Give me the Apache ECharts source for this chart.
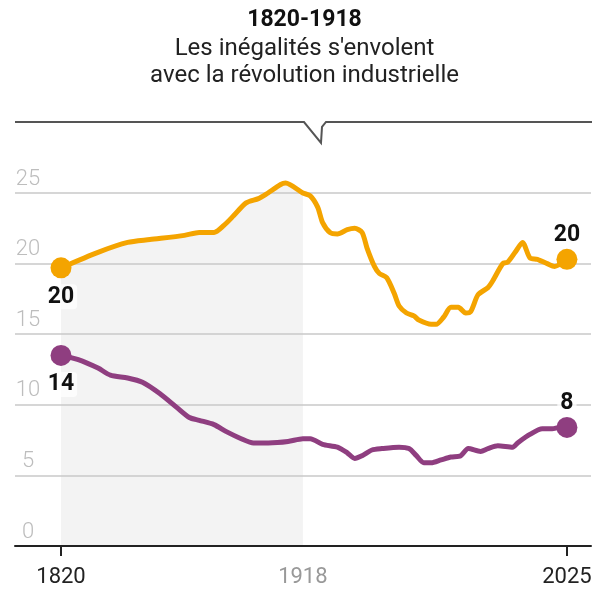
<!DOCTYPE html>
<html>
<head>
<meta charset="utf-8">
<script src="https://cdn.jsdelivr.net/npm/echarts@6/dist/echarts.min.js"></script>
<style>
  html, body { margin: 0; padding: 0; background: #fff; }
  .main { width: 609px; height: 593px; }
</style>
</head>
<body>
<div class="main"></div>
<script>
var myChart = echarts.init(document.querySelector('.main'))

// orange curve, [year, value]
var topLine = [
    [1820, 19.7], [1835, 20.8], [1847, 21.5], [1856, 21.7], [1870, 22.0], [1876, 22.2],
    [1882, 22.2], [1886, 22.7], [1890, 23.4], [1895, 24.3], [1900, 24.6], [1903, 24.9],
    [1909, 25.6], [1911, 25.7], [1918, 25.0], [1921, 24.8], [1924, 24.0], [1926, 22.9],
    [1929, 22.2], [1932, 22.1], [1936, 22.4], [1939, 22.5], [1942, 22.2], [1944, 21.1],
    [1947, 19.8], [1949, 19.3], [1952, 19.0], [1955, 17.9], [1957, 17.0], [1960, 16.5],
    [1963, 16.3], [1965, 16.0], [1970, 15.7], [1972, 15.7], [1975, 16.2], [1978, 16.9],
    [1981, 16.9], [1984, 16.5], [1986, 16.6], [1989, 17.8], [1993, 18.3], [1995, 18.8],
    [1999, 20.0], [2001, 20.1], [2004, 20.8], [2007, 21.5], [2010, 20.4], [2013, 20.3],
    [2017, 20.0], [2020, 19.8], [2025, 20.3]
];

// purple curve, [year, value]
var bottomLine = [
    [1820, 13.5], [1827, 13.2], [1835, 12.6], [1840, 12.1], [1847, 11.9], [1853, 11.6],
    [1860, 10.8], [1867, 9.8], [1872, 9.1], [1876, 8.9], [1882, 8.6], [1887, 8.1],
    [1893, 7.6], [1898, 7.3], [1904, 7.3], [1912, 7.4], [1918, 7.6], [1921, 7.6],
    [1926, 7.2], [1932, 7.0], [1936, 6.6], [1939, 6.2], [1942, 6.4], [1946, 6.8],
    [1950, 6.9], [1957, 7.0], [1961, 6.9], [1964, 6.4], [1967, 5.9], [1970, 5.9],
    [1974, 6.1], [1978, 6.3], [1982, 6.4], [1985, 6.9], [1990, 6.7], [1993, 6.9],
    [1997, 7.1], [2003, 7.0], [2005, 7.3], [2010, 7.9], [2015, 8.3], [2019, 8.3],
    [2022, 8.4], [2025, 8.4]
];

// end points with their rounded labels
var topEnds = [[1820, 19.7, '20'], [2025, 20.3, '20']];
var bottomEnds = [[1820, 13.5, '14'], [2025, 8.4, '8']];
var yearTicks = [1820, 1918, 2025];
var markYear = 1918;

var orange = '#f4a400';
var purple = '#8f3e80';

var shaded = topLine.filter(function (d) { return d[0] <= markYear; });

var labelBase = {
    show: true,
    distance: 6,
    formatter: function (p) { return p.value[2]; },
    fontFamily: 'Roboto',
    fontWeight: 'bold',
    fontSize: 23,
    color: '#111',
    backgroundColor: 'rgba(255,255,255,0.75)',
    padding: [1, 3],
    borderRadius: 4
};

function ends(list) {
    return [
        { value: list[0], label: { position: 'bottom', distance: 6 } },
        { value: list[1], label: { position: 'top', distance: 1 } }
    ];
}

option = {
    animation: false,
    title: {
        text: '1820-1918',
        subtext: "Les inégalités s'envolent\navec la révolution industrielle",
        left: 'center',
        top: 4,
        itemGap: 3,
        textStyle: {
            fontFamily: 'Roboto',
            fontWeight: 'bold',
            fontSize: 23,
            color: '#111'
        },
        subtextStyle: {
            fontFamily: 'Roboto',
            fontSize: 24,
            lineHeight: 27,
            color: '#222'
        }
    },
    graphic: [{
        type: 'polyline',
        shape: {
            points: [[15, 122], [304, 122], [321, 143], [322, 127], [326, 122], [592, 122]]
        },
        style: { stroke: '#555', lineWidth: 2, fill: null }
    }],
    grid: { left: 15, right: 18, top: 193, bottom: 47 },
    xAxis: {
        type: 'value',
        min: 1801.36,
        max: 2034.75,
        splitLine: { show: false },
        axisLine: { show: true, onZero: false, lineStyle: { color: '#222', width: 2 } },
        axisTick: {
            show: true,
            customValues: [1820, 2025],
            length: 10,
            lineStyle: { color: '#222', width: 2 }
        },
        axisLabel: {
            customValues: yearTicks,
            margin: 20,
            fontFamily: 'Roboto',
            fontSize: 22,
            formatter: function (v) {
                return v === markYear ? '{g|' + v + '}' : '{k|' + v + '}';
            },
            rich: {
                g: { color: '#999', fontFamily: 'Roboto', fontSize: 22 },
                k: { color: '#222', fontFamily: 'Roboto', fontSize: 22 }
            }
        }
    },
    yAxis: {
        type: 'value',
        min: 0,
        max: 25,
        interval: 5,
        axisLine: { show: false },
        axisTick: { show: false },
        splitLine: { lineStyle: { color: '#c8c8c8', width: 1.5 } },
        axisLabel: {
            inside: true,
            margin: 13,
            align: 'center',
            verticalAlign: 'bottom',
            padding: [0, 0, 3, 0],
            fontFamily: 'Roboto',
            fontWeight: 300,
            fontSize: 22,
            color: '#bdbdbd'
        }
    },
    series: [{
        name: 'zone',
        type: 'line',
        data: shaded,
        smooth: 0.25,
        showSymbol: false,
        clip: false,
        z: -1,
        silent: true,
        lineStyle: { width: 0 },
        areaStyle: { color: '#f3f3f3', origin: 0, opacity: 1 }
    }, {
        name: 'haut',
        type: 'line',
        data: topLine,
        smooth: 0.25,
        showSymbol: false,
        clip: false,
        lineStyle: { color: orange, width: 5 },
        markLine: {
            silent: true,
            symbol: 'none',
            label: { show: false },
            lineStyle: { color: '#888', type: [2, 3], width: 1 },
            data: [[{ coord: [markYear, 24.9] }, { coord: [markYear, -0.85] }]]
        },
        z: 3
    }, {
        name: 'bas',
        type: 'line',
        data: bottomLine,
        smooth: 0.25,
        showSymbol: false,
        clip: false,
        lineStyle: { color: purple, width: 5 },
        z: 3
    }, {
        type: 'scatter',
        data: ends(topEnds),
        symbolSize: 21,
        itemStyle: { color: orange, opacity: 1 },
        label: labelBase,
        clip: false,
        z: 5
    }, {
        type: 'scatter',
        data: ends(bottomEnds),
        symbolSize: 21,
        itemStyle: { color: purple, opacity: 1 },
        label: labelBase,
        clip: false,
        z: 5
    }]
};

myChart.setOption(option);
</script>
</body>
</html>
